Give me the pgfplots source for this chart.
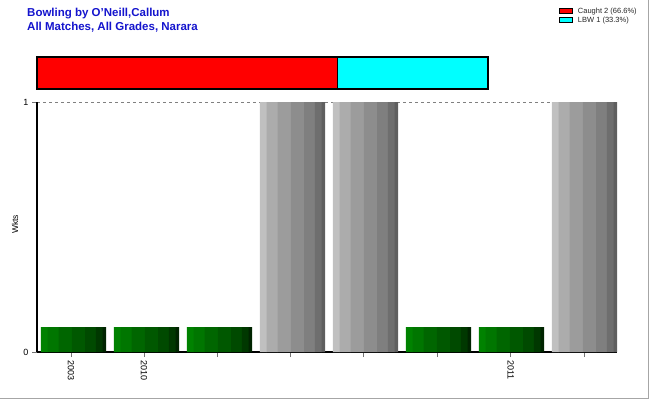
\documentclass[border=0pt]{standalone}
\usepackage{fontspec}
\setmainfont{Liberation Sans}
\usepackage{pgfplots}
\pgfplotsset{compat=1.18}
\definecolor{titleblue}{RGB}{20,20,205}
\definecolor{gA}{RGB}{0,130,0}
\definecolor{gB}{RGB}{0,118,0}
\definecolor{gC}{RGB}{0,102,0}
\definecolor{gD}{RGB}{0,88,0}
\definecolor{gE}{RGB}{0,74,0}
\definecolor{gF}{RGB}{0,56,0}
\definecolor{gG}{RGB}{0,36,0}
\definecolor{yA}{RGB}{192,192,192}
\definecolor{yB}{RGB}{172,172,172}
\definecolor{yC}{RGB}{156,156,156}
\definecolor{yD}{RGB}{141,141,141}
\definecolor{yE}{RGB}{127,127,127}
\definecolor{yF}{RGB}{110,110,110}
\definecolor{yG}{RGB}{95,95,95}
\pgfplotsset{boxlegend/.style={legend image code/.code={\draw[##1, line width=0.6pt] (0pt,-2.5pt) rectangle (13pt,3pt); \path (17pt,0pt);}}}
\pgfplotsset{stripe/.style n args={3}{ybar, draw=none, fill=#1, bar width=#2pt, bar shift=#3pt}}
\pgfplotstableread{
x y
0 0.1
1 0.1
2 0.1
5 0.1
6 0.1
}\greenbars
\pgfplotstableread{
x y
3 1
4 1
7 1
}\graybars
\begin{document}
\begin{tikzpicture}
\path[use as bounding box] (0pt,0pt) rectangle (650pt,400pt);
\draw[black!35, line width=1.5pt] (0pt,1.5pt) -- (648.5pt,1.5pt) -- (648.5pt,400pt);
\node[anchor=base west, inner sep=0, text=titleblue, font=\bfseries\fontsize{11.5}{13}\selectfont] at (27pt,383.3pt) {Bowling by O'Neill,Callum};
\node[anchor=base west, inner sep=0, text=titleblue, font=\bfseries\fontsize{11.5}{13}\selectfont] at (27pt,369.3pt) {All Matches, All Grades, Narara};
\begin{axis}[at={(37pt,48pt)}, anchor=south west, scale only axis, width=580pt, height=250pt,
  xmin=-0.5, xmax=7.445, ymin=0, ymax=1,
  axis x line*=bottom, axis y line*=left,
  axis line style={line width=2.5pt, -},
  ytick={0,1}, xtick={-0.035,0.965,1.965,2.97,3.975,4.985,5.99,6.995},
  xticklabels={2003,2010,,,,,2011,},
  tick align=outside, major tick length=5pt,
  tick style={black!55, line width=0.8pt},
  xticklabel style={rotate=-90, anchor=west, font=\fontsize{9}{10}\selectfont},
  yticklabel style={font=\fontsize{9}{10}\selectfont},
  /pgf/number format/assume math mode=true,
  ymajorgrids, major grid style={dashed, black!50, line width=0.7pt},
  ylabel={Wkts}, ylabel style={at={(axis description cs:-0.038,0.51)}, anchor=center, font=\fontsize{8.5}{10}\selectfont},
  ]
\addplot[stripe={gA}{7.0}{-29.15}] table {\greenbars};
\addplot[stripe={gB}{11.3}{-20.3}] table {\greenbars};
\addplot[stripe={gC}{13.6}{-8.15}] table {\greenbars};
\addplot[stripe={gD}{13.6}{5.15}] table {\greenbars};
\addplot[stripe={gE}{11.0}{17.15}] table {\greenbars};
\addplot[stripe={gF}{7.0}{25.85}] table {\greenbars};
\addplot[stripe={gG}{3.3}{30.85}] table {\greenbars};
\addplot[stripe={yA}{7.0}{-29.15}] table {\graybars};
\addplot[stripe={yB}{11.3}{-20.3}] table {\graybars};
\addplot[stripe={yC}{13.6}{-8.15}] table {\graybars};
\addplot[stripe={yD}{13.6}{5.15}] table {\graybars};
\addplot[stripe={yE}{11.0}{17.15}] table {\graybars};
\addplot[stripe={yF}{7.0}{25.85}] table {\graybars};
\addplot[stripe={yG}{3.3}{30.85}] table {\graybars};
\end{axis}
\begin{axis}[at={(37pt,311pt)}, anchor=south west, scale only axis, width=451pt, height=32pt,
  xmin=0, xmax=3, ymin=-0.5, ymax=0.5, xbar stacked, bar width=32pt, hide axis, clip=false,
  legend style={at={(axis description cs:1.151,2.64)}, anchor=north west, draw=none, fill=none,
    font=\fontsize{7.5}{9}\selectfont, text=black!85, row sep=0pt,
    nodes={inner sep=0.75pt, text height=6pt, text depth=1.5pt}},
  legend cell align=left,
  ]
\addplot[fill=red, draw=black, line width=1.2pt, boxlegend] coordinates {(2,0)};
\addplot[fill={rgb,255:red,0;green,255;blue,255}, draw=black, line width=1.2pt, boxlegend] coordinates {(1,0)};
\legend{Caught 2 (66.6\%), LBW 1 (33.3\%)}
\end{axis}
\end{tikzpicture}
\end{document}
